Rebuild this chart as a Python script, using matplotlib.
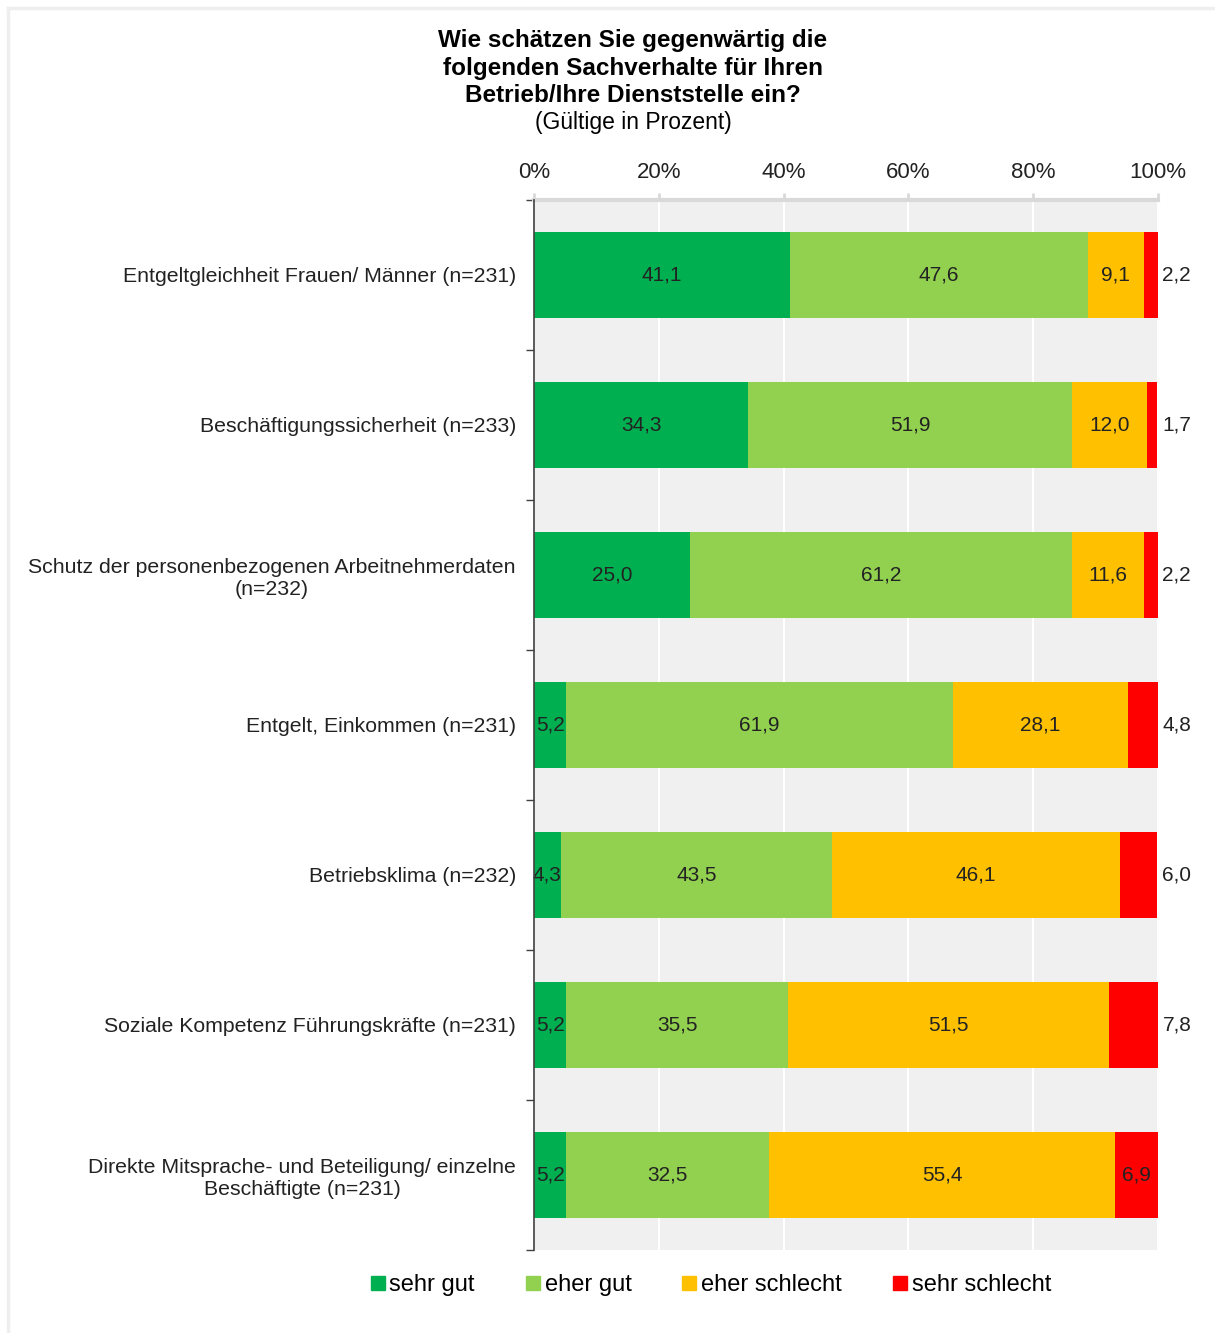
import numpy as np
import matplotlib.pyplot as plt
from matplotlib.lines import Line2D

plt.rcParams['font.family'] = ['Liberation Sans', 'DejaVu Sans']

# Data (Gültige in Prozent)
categories = [
    'Entgeltgleichheit Frauen/ Männer (n=231)',
    'Beschäftigungssicherheit (n=233)',
    'Schutz der personenbezogenen Arbeitnehmerdaten\n(n=232)',
    'Entgelt, Einkommen (n=231)',
    'Betriebsklima (n=232)',
    'Soziale Kompetenz Führungskräfte (n=231)',
    'Direkte Mitsprache- und Beteiligung/ einzelne\nBeschäftigte (n=231)',
]
sehr_gut = [41.1, 34.3, 25.0, 5.2, 4.3, 5.2, 5.2]
eher_gut = [47.6, 51.9, 61.2, 61.9, 43.5, 35.5, 32.5]
eher_schlecht = [9.1, 12.0, 11.6, 28.1, 46.1, 51.5, 55.4]
sehr_schlecht = [2.2, 1.7, 2.2, 4.8, 6.0, 7.8, 6.9]

series_names = ['sehr gut', 'eher gut', 'eher schlecht', 'sehr schlecht']
colors = ['#00B050', '#92D050', '#FFC000', '#FF0000']
# last segment label drawn right of the bar (too narrow inside)
label_outside = [True, True, True, True, True, True, False]

fig = plt.figure(figsize=(12.15, 13.33), dpi=100)
ax = fig.add_axes([0.4395, 0.0623, 0.5136, 0.7877])
ax.set_facecolor('#F0F0F0')

y = np.arange(len(categories))
series = [sehr_gut, eher_gut, eher_schlecht, sehr_schlecht]
left = np.zeros(len(categories))
for k, (vals, col) in enumerate(zip(series, colors)):
    vals = np.array(vals)
    ax.barh(y, vals, left=left, height=0.57, color=col, zorder=3)
    for i, v in enumerate(vals):
        txt = f'{v:.1f}'.replace('.', ',')
        if k == 3 and label_outside[i]:
            ax.text(100.7, y[i], txt, ha='left', va='center', fontsize=15,
                    color='#222222', zorder=4)
        else:
            ax.text(left[i] + v / 2, y[i], txt, ha='center', va='center',
                    fontsize=15, color='#222222', zorder=4)
    left = left + vals

ax.set_xlim(0, 100)
ax.set_ylim(len(categories) - 0.5, -0.5)

# top axis with percentages
ax.xaxis.tick_top()
ax.set_xticks([0, 20, 40, 60, 80, 100])
ax.set_xticklabels(['0%', '20%', '40%', '60%', '80%', '100%'], fontsize=16)
ax.tick_params(axis='x', length=5, width=2, color='#D9D9D9', pad=7,
               labelcolor='#222222')
ax.grid(axis='x', color='white', linewidth=1.5, zorder=1)

# category axis
ax.set_yticks(y)
ax.set_yticklabels(categories, fontsize=15.3, color='#222222', multialignment='center')
ax.set_yticks(np.arange(-0.5, len(categories)), minor=True)
ax.tick_params(axis='y', which='major', length=0, pad=13)
ax.tick_params(axis='y', which='minor', length=6, width=1, color='#404040')

for s in ['right', 'bottom']:
    ax.spines[s].set_visible(False)
ax.spines['top'].set_color('#D9D9D9')
ax.spines['top'].set_linewidth(3)
ax.spines['left'].set_color('#404040')
ax.spines['left'].set_linewidth(1.2)
ax.spines['left'].set_zorder(5)

# title
fig.text(0.521, 1 - 40 / 1333, 'Wie schätzen Sie gegenwärtig die', ha='center',
         va='center', fontsize=17.5, fontweight='bold')
fig.text(0.521, 1 - 68 / 1333, 'folgenden Sachverhalte für Ihren', ha='center',
         va='center', fontsize=17.5, fontweight='bold')
fig.text(0.521, 1 - 96 / 1333, 'Betrieb/Ihre Dienststelle ein?', ha='center',
         va='center', fontsize=17.5, fontweight='bold')
fig.text(0.521, 1 - 123 / 1333, '(Gültige in Prozent)', ha='center',
         va='center', fontsize=16.5)

# legend
handles = [Line2D([], [], marker='s', linestyle='', markersize=10,
                  markerfacecolor=c, markeredgecolor=c) for c in colors]
fig.legend(handles, series_names, loc='center', bbox_to_anchor=(0.584, 1 - 1285 / 1333),
           ncol=4, frameon=False, fontsize=17, handletextpad=0.1,
           columnspacing=2.05, handlelength=0.8)

# light frame lines at top and left
fig.add_artist(Line2D([8 / 1215, 1], [1 - 8 / 1333, 1 - 8 / 1333],
                      transform=fig.transFigure, color='#EEEEEE', linewidth=2.5))
fig.add_artist(Line2D([8 / 1215, 8 / 1215], [0, 1 - 8 / 1333],
                      transform=fig.transFigure, color='#EEEEEE', linewidth=2.5))

fig.savefig('out.png', dpi=100)
